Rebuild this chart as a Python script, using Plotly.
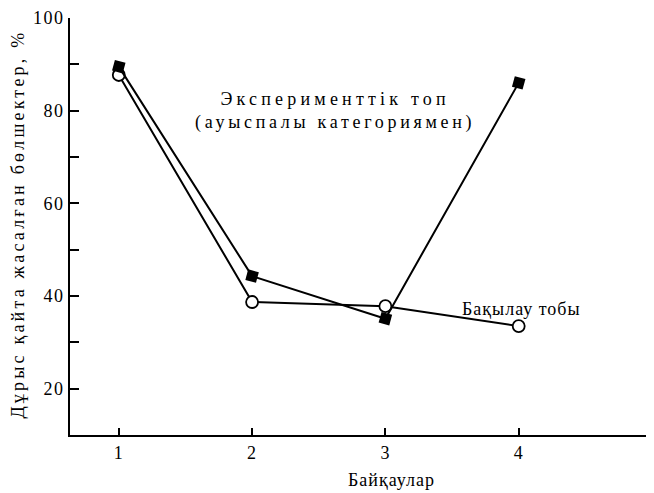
import plotly.graph_objects as go

# observations (x) and share of correctly reproduced items, %
trials = [1, 2, 3, 4]
experimental = [89.5, 44.3, 35.1, 86.0]
control = [87.7, 38.7, 37.8, 33.5]

x_ticks = [1, 2, 3, 4, 5]
x_tick_labels = ["1", "2", "3", "4", ""]
y_ticks = [20, 30, 40, 50, 60, 70, 80, 90, 100]
y_tick_labels = ["20", "", "40", "", "60", "", "80", "", "100"]

SERIF = "Liberation Serif, DejaVu Serif, serif"
PAGE_PAD = 8  # default body margin of the html page


def spaced(text, px):
    """Old-style letter-spaced typesetting."""
    return f'<span style="letter-spacing:{px}px">{text}</span>'


font = {"family": SERIF, "size": 18, "color": "black"}

fig = go.Figure()
fig.add_trace(go.Scatter(
    x=trials, y=control, mode="lines+markers", name="control",
    line={"color": "black", "width": 2},
    marker={"symbol": "circle", "size": 12, "color": "white",
            "line": {"color": "black", "width": 1.8}}))
fig.add_trace(go.Scatter(
    x=trials, y=experimental, mode="lines+markers", name="experimental",
    line={"color": "black", "width": 2},
    marker={"symbol": "square", "size": 11, "color": "black", "angle": 15}))

fig.add_annotation(x=2.62, y=80.0, xref="x", yref="y", showarrow=False,
                   text=spaced("Эксперименттік топ", 4.2) + "<br>"
                   + spaced("(ауыспалы категориямен)", 3.7),
                   font=font, align="center")
fig.add_annotation(x=4.02, y=37.2, xref="x", yref="y", showarrow=False,
                   text=spaced("Бақылау тобы", 1.0), font=font)
fig.add_annotation(x=0.553, y=-0.108, xref="paper", yref="paper",
                   showarrow=False, text=spaced("Байқаулар", 1.0),
                   yanchor="middle", font=font)
fig.add_annotation(x=-0.089, y=0.505, xref="paper", yref="paper",
                   showarrow=False, textangle=-90,
                   text=spaced("Дұрыс қайта жасалған бөлшектер, %", 3.2),
                   xanchor="center", yanchor="middle", font=font)

fig.update_xaxes(range=[0.634, 5.0], tickvals=x_ticks,
                 ticktext=[spaced(t, 1) for t in x_tick_labels],
                 ticks="inside", ticklen=7, tickwidth=1.5, tickcolor="black",
                 showline=True, linecolor="black", linewidth=2,
                 showgrid=False, zeroline=False, automargin=False,
                 tickfont=font)
fig.update_yaxes(range=[10, 100], tickvals=y_ticks,
                 ticktext=[spaced(t, 1.5) for t in y_tick_labels],
                 ticks="inside", ticklen=9, tickwidth=1.5, tickcolor="black",
                 showline=True, linecolor="black", linewidth=2,
                 showgrid=False, zeroline=False, automargin=False,
                 ticklabeloverflow="allow", tickfont=font)
fig.update_layout(width=654 - PAGE_PAD, height=493 - PAGE_PAD,
                  showlegend=False,
                  margin={"l": 70 - PAGE_PAD, "r": 2, "t": 18 - PAGE_PAD,
                          "b": 58},
                  plot_bgcolor="white", paper_bgcolor="white")
fig.write_html("out.html")
